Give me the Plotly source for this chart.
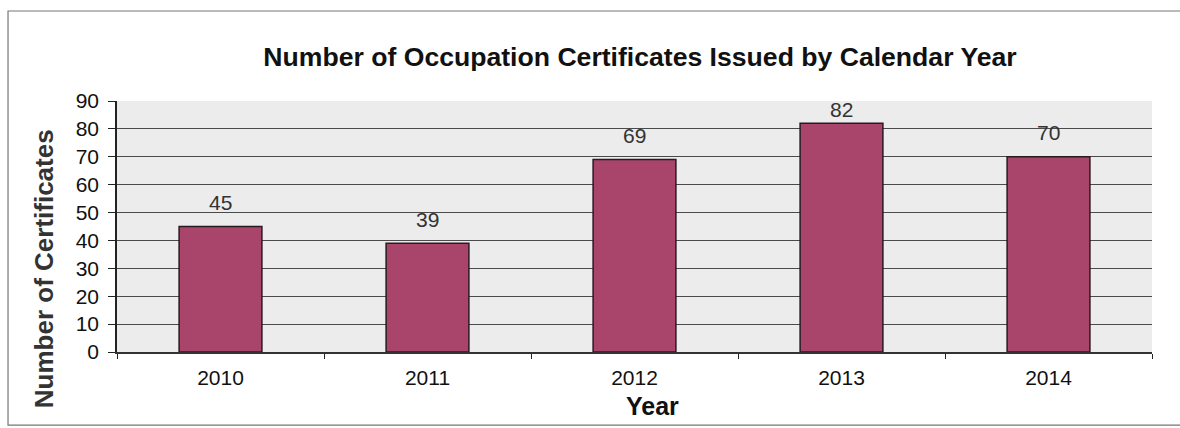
import plotly.graph_objects as go

years = ["2010", "2011", "2012", "2013", "2014"]
certificates = [45, 39, 69, 82, 70]
y_ticks = [0, 10, 20, 30, 40, 50, 60, 70, 80, 90]

FONT = "Arial, 'Liberation Sans', sans-serif"

fig = go.Figure(
    go.Bar(
        x=years,
        y=certificates,
        marker=dict(color="#A9446B", line=dict(color="#2a1a20", width=1.5)),
        width=0.4,
        hoverinfo="x+y",
    )
)

# Value labels above each bar (category index positions on the x axis)
for i, v in enumerate(certificates):
    fig.add_annotation(
        x=i, y=v, xref="x", yref="y",
        text=str(v), showarrow=False,
        yanchor="middle", yshift=24 if v < 80 else 14,
        font=dict(family=FONT, size=21, color="#333333"),
    )

fig.update_layout(
    width=1180,
    height=428,
    margin=dict(l=117, r=28, t=101, b=76),
    paper_bgcolor="white",
    plot_bgcolor="#ECECEC",
    showlegend=False,
    font=dict(family=FONT, color="#111111"),
    title=dict(
        text="<b>Number of Occupation Certificates Issued by Calendar Year</b>",
        x=0.5053,
        xref="paper",
        xanchor="center",
        y=0.867,
        yanchor="middle",
        font=dict(family=FONT, size=26.6, color="#111111"),
    ),
    xaxis=dict(
        type="category",
        categoryorder="array",
        categoryarray=years,
        range=[-0.5, len(years) - 0.5],
        autorange=False,
        tickson="boundaries",
        ticks="outside",
        ticklen=5,
        tickcolor="#222222",
        ticklabelstandoff=6,
        tickfont=dict(family=FONT, size=21, color="#111111"),
        showline=True,
        linecolor="#333333",
        linewidth=1.5,
        showgrid=False,
    ),
    yaxis=dict(
        range=[0, 90],
        autorange=False,
        tickvals=y_ticks,
        ticks="outside",
        ticklen=7,
        tickcolor="#222222",
        ticklabelstandoff=5,
        tickfont=dict(family=FONT, size=21, color="#111111"),
        showline=True,
        linecolor="#222222",
        linewidth=1.5,
        showgrid=True,
        gridcolor="#4a4a4a",
        gridwidth=1,
        zeroline=False,
    ),
)

# Axis titles
fig.add_annotation(
    text="<b>Year</b>",
    xref="paper", yref="paper",
    x=0.517, y=-0.215,
    xanchor="center", yanchor="middle",
    showarrow=False,
    font=dict(family=FONT, size=25, color="#111111"),
)
fig.add_annotation(
    text="<b>Number of Certificates</b>",
    xref="paper", yref="paper",
    x=-0.0705, y=0.33,
    xanchor="center", yanchor="middle",
    textangle=-90,
    showarrow=False,
    font=dict(family=FONT, size=26, color="#333333"),
)

# Outer chart frame
fig.add_shape(
    type="rect", xref="paper", yref="paper",
    x0=-0.1053, x1=1.1, y0=-0.291, y1=1.3586,
    line=dict(color="#777777", width=1.2),
    fillcolor="rgba(0,0,0,0)",
    layer="below",
)

fig.write_html("out.html")
